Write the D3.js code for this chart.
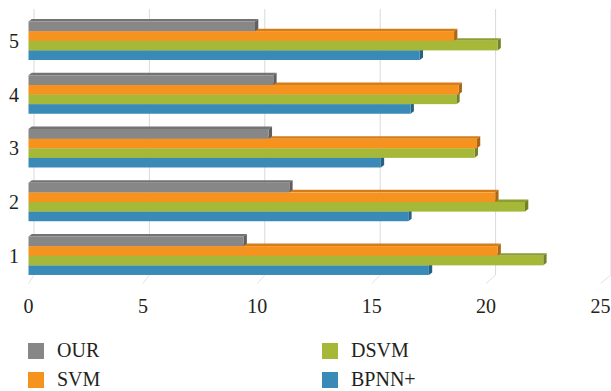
<!DOCTYPE html>
<html>
<head>
<meta charset="utf-8">
<script src="https://cdn.jsdelivr.net/npm/d3@7/dist/d3.min.js"></script>
<style>
  html, body { margin: 0; padding: 0; background: #ffffff; }
  svg { display: block; }
  text { font-family: "Liberation Serif", "DejaVu Serif", serif; fill: #231f20; }
</style>
</head>
<body>
<svg id="chart" width="611" height="391"></svg>
<script>
// Categories (top to bottom) and series, drawn in order top-to-bottom within each group
const categories = ["5", "4", "3", "2", "1"];
const seriesNames = ["OUR", "SVM", "DSVM", "BPNN+"];
const seriesColors = ["#878787", "#f6921e", "#a5b838", "#3a8ab8"];

// Values per category, in the same order as `categories`
const ourValues   = [9.9, 10.7, 10.5, 11.4, 9.4];
const svmValues   = [18.6, 18.8, 19.6, 20.4, 20.5];
const dsvmValues  = [20.5, 18.7, 19.5, 21.7, 22.5];
const bpnnValues  = [17.1, 16.7, 15.4, 16.6, 17.5];
const seriesValues = [ourValues, svmValues, dsvmValues, bpnnValues];

const xTicks = [0, 5, 10, 15, 20, 25];

const svg = d3.select("#chart");

// Front plane (bars, tick labels) and back wall (gridlines) of the 3-D box
const xFront = d3.scaleLinear().domain([0, 25]).range([28.5, 600.5]);
const xBack  = d3.scaleLinear().domain([0, 25]).range([34, 611]);
const wallTop = 9, wallBottom = 275, floorFront = 283.5;

const y = d3.scaleBand().domain(categories).range([13.9, 282.6])
  .paddingInner(0.284).paddingOuter(0.142);
const ySub = d3.scaleBand().domain(seriesNames).range([0, y.bandwidth()]);

// Depth of each bar's top/side faces
const dx = 3.3, dy = 2.5;

// Gridlines on the back wall plus their slanted floor segments
const grid = svg.append("g");
grid.selectAll("line.wall").data(xTicks).join("line")
  .attr("x1", d => xBack(d)).attr("x2", d => xBack(d))
  .attr("y1", wallTop).attr("y2", wallBottom)
  .attr("stroke", "#d9d9d9").attr("stroke-width", 1);
grid.selectAll("line.floor").data(xTicks).join("line")
  .attr("x1", d => xBack(d)).attr("x2", d => xFront(d))
  .attr("y1", wallBottom).attr("y2", floorFront)
  .attr("stroke", "#e2e2e2").attr("stroke-width", 1);

// Bars: draw bottom series first so upper bars hide the faces beneath them
const bars = svg.append("g");
categories.forEach((cat, ci) => {
  for (let si = seriesNames.length - 1; si >= 0; si--) {
    const v = seriesValues[si][ci];
    const color = d3.color(seriesColors[si]);
    const x0 = xFront(0), x1 = xFront(v);
    const y0 = y(cat) + ySub(seriesNames[si]);
    const h = ySub.bandwidth();
    const g = bars.append("g");
    // top face
    g.append("path")
      .attr("d", `M${x0},${y0} L${x0 + dx},${y0 - dy} L${x1 + dx},${y0 - dy} L${x1},${y0} Z`)
      .attr("fill", color.darker(0.45));
    // end face
    g.append("path")
      .attr("d", `M${x1},${y0} L${x1 + dx},${y0 - dy} L${x1 + dx},${y0 + h - dy} L${x1},${y0 + h} Z`)
      .attr("fill", color.darker(1.0));
    // front face
    g.append("rect")
      .attr("x", x0).attr("y", y0)
      .attr("width", x1 - x0).attr("height", h)
      .attr("fill", color);
  }
});

// Category labels
svg.append("g").selectAll("text").data(categories).join("text")
  .attr("x", 19)
  .attr("y", d => y(d) + y.bandwidth() / 2 + 7)
  .attr("text-anchor", "end")
  .attr("font-size", 20)
  .text(d => d);

// Value axis labels
svg.append("g").selectAll("text").data(xTicks).join("text")
  .attr("x", d => xFront(d))
  .attr("y", 312.5)
  .attr("text-anchor", "middle")
  .attr("font-size", 20)
  .text(d => d);

// Legend, two columns
const legendPos = [[28, 343], [28, 372], [322, 343], [322, 372]];
const legend = svg.append("g");
seriesNames.forEach((name, i) => {
  const [lx, ly] = legendPos[i];
  legend.append("rect").attr("x", lx).attr("y", ly).attr("width", 16).attr("height", 16)
    .attr("fill", seriesColors[i]);
  legend.append("text").attr("x", lx + 29).attr("y", ly + 14)
    .attr("font-size", 20).text(name);
});
</script>
</body>
</html>
